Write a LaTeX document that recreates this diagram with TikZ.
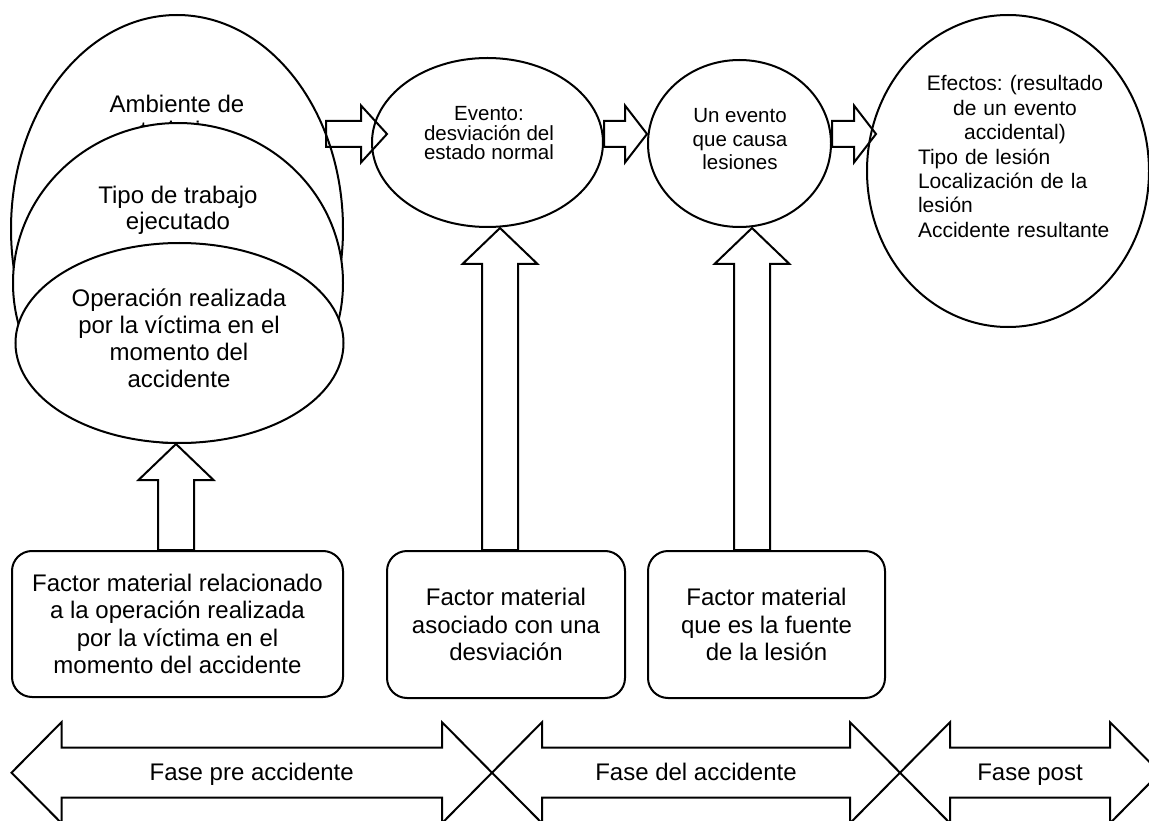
\documentclass[tikz,border=0pt]{standalone}
\usepackage{fontspec}
\setmainfont{Liberation Sans}
\usetikzlibrary{shapes.geometric,calc}

% hollow block arrow pointing up: #1 = tip, #2 = anything whose y gives the tail
\newcommand\upblock[2]{%
  \coordinate (upbase) at (#1 |- #2);
  \draw[blk] ($(#1)+(-18,36)$) -- ($(#1)+(-37.5,36)$) -- (#1) -- ($(#1)+(37.5,36)$)
    -- ($(#1)+(18,36)$) -- ($(upbase)+(18,0)$) -- ($(upbase)+(-18,0)$) -- cycle;}

% hollow block arrow pointing right: #1 = tail, #2 = tip, #3 = head length
\newcommand\rightblock[3]{%
  \draw[blk] ($(#1)+(0,-13)$) -- ($(#2)+(-#3,-13)$) -- ($(#2)+(-#3,-28.5)$) -- (#2)
    -- ($(#2)+(-#3,28.5)$) -- ($(#2)+(-#3,13)$) -- ($(#1)+(0,13)$) -- cycle;}

% hollow double-headed phase arrow between two tips
\newcommand\phasearrow[2]{%
  \draw[blk] (#1) -- ($(#1)+(50,-50.5)$) -- ($(#1)+(50,-25)$) -- ($(#2)+(-50,-25)$)
    -- ($(#2)+(-50,-50.5)$) -- (#2) -- ($(#2)+(-50,50.5)$) -- ($(#2)+(-50,25)$)
    -- ($(#1)+(50,25)$) -- ($(#1)+(50,50.5)$) -- cycle;}

\begin{document}
\begin{tikzpicture}[x=1pt,y=-1pt,line width=2pt,
  oval/.style={draw, ellipse, fill=white, inner sep=0pt},
  framebox/.style={draw, rectangle, rounded corners=20pt, inner sep=0pt, align=center,
    font=\fontsize{24}{27.3}\selectfont},
  blk/.style={draw, line join=miter},
  bigtxt/.style={inner sep=0pt, align=center, anchor=base, font=\fontsize{24}{26.7}\selectfont},
  smalltxt/.style={inner sep=0pt, align=center, anchor=base, font=\fontsize{20.5}{19.5}\selectfont},
  phasetxt/.style={inner sep=0pt, anchor=base, font=\fontsize{24}{27}\selectfont}]

\fill[white] (0,0) rectangle (1149,821);
\useasboundingbox (0,0) rectangle (1149,821);

% stacked context ellipses, back to front (text anchored at its last baseline)
\node[oval, minimum width=332pt, minimum height=428pt] (amb) at (177,229) {};
\node[bigtxt] (ambt) at (177,139) {Ambiente de\\trabajo};
\node[oval, minimum width=330pt, minimum height=320pt] (tipo) at (178,283) {};
\node[bigtxt] (tipot) at (178,230) {Tipo de trabajo\\ejecutado};
\node[oval, minimum width=328pt, minimum height=200pt] (op) at (179.5,343) {};
\node[bigtxt] (opt) at (179,387) {Operación realizada\\por la víctima en el\\momento del\\accidente};

% event chain
\node[oval, minimum width=231pt, minimum height=169pt] (ev) at (487.5,142.5) {};
\node[smalltxt] (evt) at (489,160) {Evento:\\desviación del\\estado normal};
\node[oval, minimum width=183pt, minimum height=167pt] (un) at (739.5,143.5) {};
\node[smalltxt, font=\fontsize{20.5}{23.5}\selectfont] (unt) at (740,170) {Un evento\\que causa\\lesiones};
\node[oval, minimum width=282pt, minimum height=312pt] (ef) at (1008,171) {};
\node[inner sep=0pt, anchor=base west, text width=194pt, align=left,
  font=\fontsize{21}{24.4}\selectfont] (eft) at (917,91)
  {{\centering Efectos:\ (resultado\\de un evento\\accidental)\par}\noindent Tipo de lesión\\Localización de la\\lesión\\Accidente resultante};

% material factors
\node[framebox, minimum width=331pt, minimum height=146pt] (f1) at (177.5,624)
  {Factor material relacionado\\a la operación realizada\\por la víctima en el\\momento del accidente};
\node[framebox, minimum width=238pt, minimum height=147pt] (f2) at (506,624.5)
  {Factor material\\asociado con una\\desviación};
\node[framebox, minimum width=237pt, minimum height=147pt] (f3) at (766.5,624.5)
  {Factor material\\que es la fuente\\de la lesión};

% arrows along the event chain
\coordinate (ay) at (0,134);
\coordinate (a1s) at ($(amb.east |- ay)+(-18,0)$);
\coordinate (a1e) at ($(ev.west |- ay)+(16,0)$);
\coordinate (a2s) at (ev.east |- ay);
\coordinate (a2e) at (un.west |- ay);
\coordinate (a3s) at (un.east |- ay);
\coordinate (a3e) at ($(ef.west |- ay)+(10,0)$);
\rightblock{a1s}{a1e}{26}
\rightblock{a2s}{a2e}{22}
\rightblock{a3s}{a3e}{22}

% arrows from the material factors
\coordinate (u1) at ([xshift=-3.5pt]op.south);
\coordinate (u2) at ([xshift=12.5pt]ev.south);
\coordinate (u3) at ([xshift=12.5pt]un.south);
\upblock{u1}{f1.north}
\upblock{u2}{f2.north}
\upblock{u3}{f3.north}

% phases
\coordinate (p0) at (11.5,772.7);
\coordinate (p1) at (492,772.7);
\coordinate (p2) at (900,772.7);
\coordinate (p3) at (1160,772.7);
\phasearrow{p0}{p1}
\phasearrow{p1}{p2}
\phasearrow{p2}{p3}
\node[phasetxt] (ph1) at ($(p0)!0.5!(p1)+(0,8)$) {Fase pre accidente};
\node[phasetxt] (ph2) at ($(p1)!0.5!(p2)+(0,8)$) {Fase del accidente};
\node[phasetxt] (ph3) at ($(p2)!0.5!(p3)+(0,8)$) {Fase post};
\end{tikzpicture}
\end{document}
